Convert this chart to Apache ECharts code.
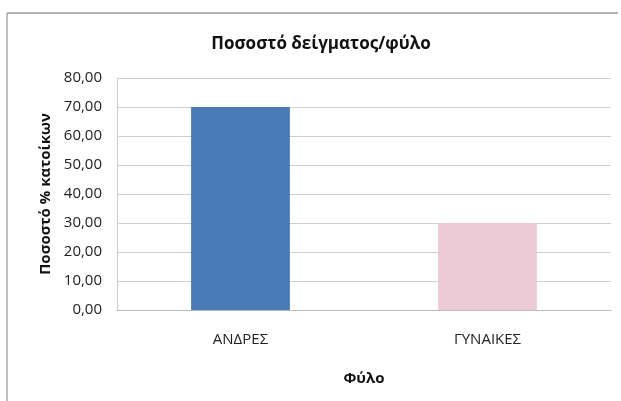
<!DOCTYPE html>
<html>
<head>
<meta charset="utf-8">
<script src="https://cdn.jsdelivr.net/npm/echarts@6/dist/echarts.min.js"></script>
<style>
  html, body { margin: 0; padding: 0; background: #fff; }
  #chart { width: 621px; height: 401px; }
</style>
</head>
<body>
<div id="chart"></div>
<script>
// data
const categories = ["ΑΝΔΡΕΣ", "ΓΥΝΑΙΚΕΣ"];
const values = [70.0, 30.0];
const barColors = ["#4a7bb7", "#eccbd6"];

const fmt = v => v.toFixed(2).replace(".", ",");

let chart = echarts.init(document.getElementById("chart"));

let opt = {
    backgroundColor: "#fff",
    animation: false,
    textStyle: { fontFamily: "Open Sans, DejaVu Sans, sans-serif" },
    title: {
        text: "Ποσοστό δείγματος/φύλο",
        left: 316, top: 31, textAlign: "center",
        textStyle: { fontSize: 17, fontWeight: "bold", color: "#111" }
    },
    grid: { left: 117, right: 10, top: 78, bottom: 91 },
    xAxis: {
        type: "category",
        data: categories,
        name: "Φύλο",
        nameLocation: "middle",
        nameGap: 61,
        nameTextStyle: { fontSize: 15, fontWeight: "bold", color: "#111" },
        axisLine: { lineStyle: { color: "#bbb" } },
        axisTick: { show: false },
        axisLabel: { fontSize: 15, color: "#222", margin: 22 }
    },
    yAxis: {
        type: "value",
        min: 0, max: 80, interval: 10,
        name: "Ποσοστό % κατοίκων",
        nameLocation: "middle",
        nameGap: 55,
        nameTextStyle: { fontSize: 15, fontWeight: "bold", color: "#111" },
        axisLine: { show: true, lineStyle: { color: "#ccc" } },
        axisTick: { show: false },
        axisLabel: { fontSize: 15, color: "#222", formatter: fmt, margin: 15 },
        splitLine: { lineStyle: { color: "#cfcfcf" } }
    },
    series: [{
        type: "bar",
        barWidth: "40%",
        data: values.map((v, i) => ({ value: v, itemStyle: { color: barColors[i] } }))
    }],
    graphic: [
        { type: "line", shape: { x1: 7, y1: 13, x2: 618, y2: 13 }, style: { stroke: "#999", lineWidth: 1.5 } },
        { type: "line", shape: { x1: 7, y1: 13, x2: 7, y2: 401 }, style: { stroke: "#aaa", lineWidth: 1.5 } }
    ]
};

chart.setOption(opt);
</script>
</body>
</html>
